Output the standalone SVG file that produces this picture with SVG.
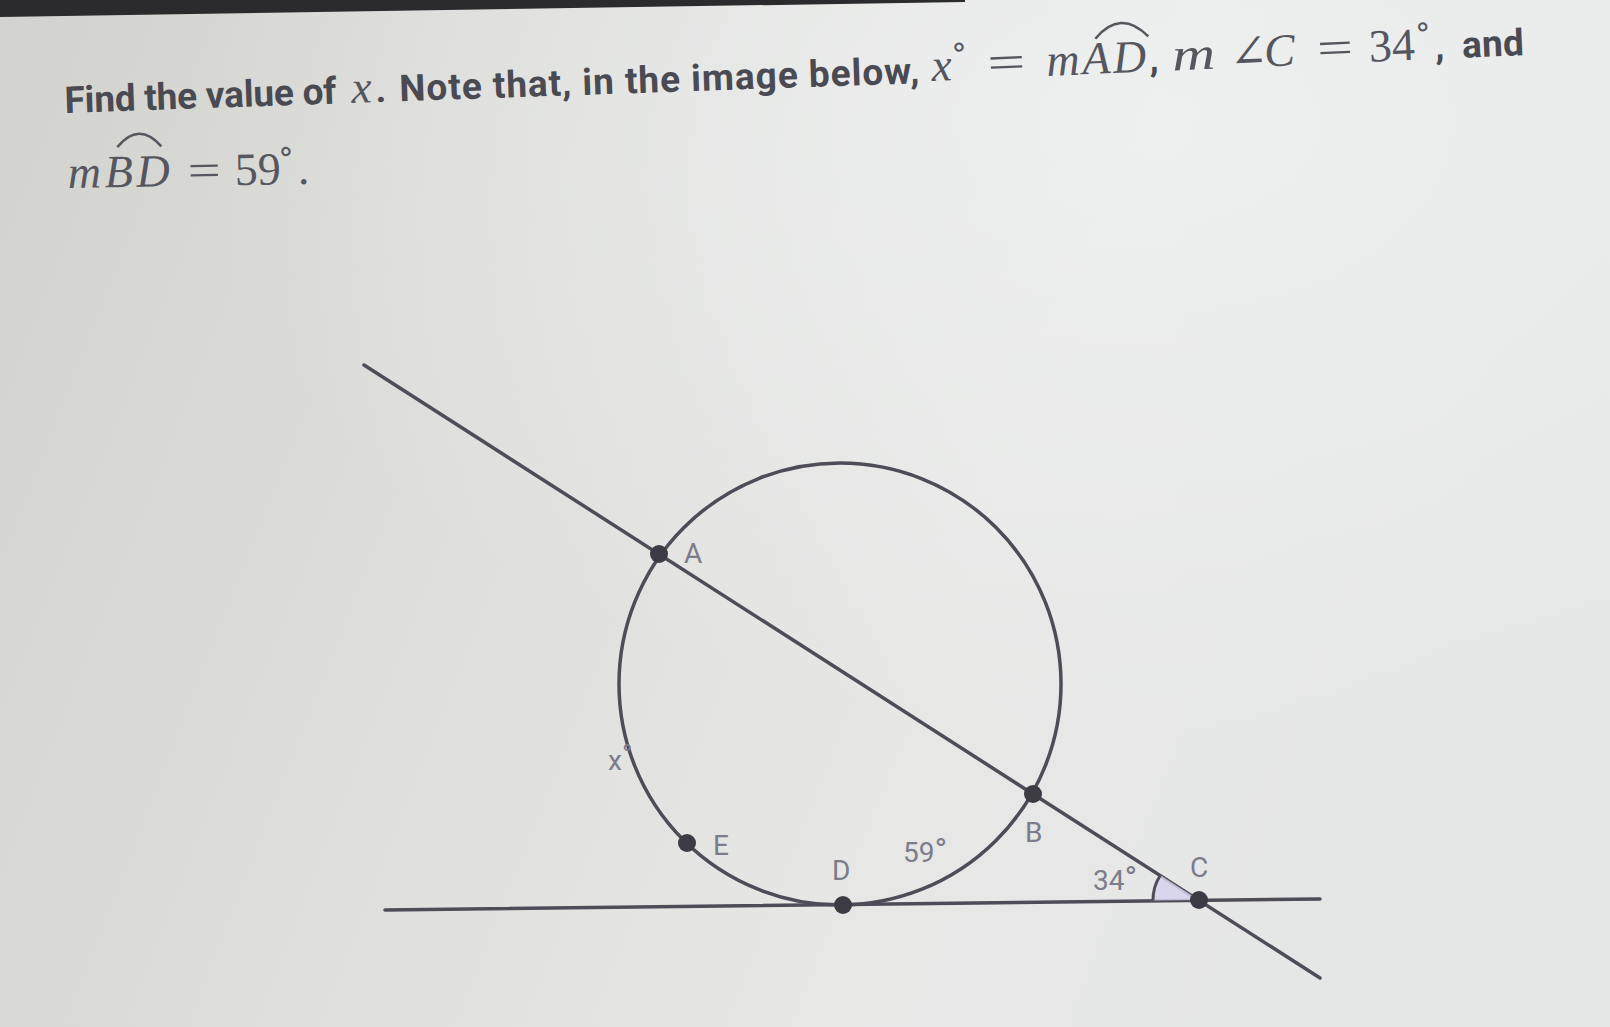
<svg xmlns="http://www.w3.org/2000/svg" width="1610" height="1027" viewBox="0 0 1610 1027">
<defs>
<linearGradient id="bg" x1="0" y1="0" x2="1" y2="0.25">
<stop offset="0" stop-color="#d2d2ce"/>
<stop offset="0.35" stop-color="#dddedb"/>
<stop offset="0.7" stop-color="#e7e8e6"/>
<stop offset="1" stop-color="#e5e7e6"/>
</linearGradient>
<radialGradient id="glow" cx="0.72" cy="0.12" r="0.6">
<stop offset="0" stop-color="#f0f2f2" stop-opacity="0.8"/>
<stop offset="1" stop-color="#f0f2f2" stop-opacity="0"/>
</radialGradient>
<style>
.q{font-family:Roboto,"Liberation Sans",sans-serif;font-weight:bold;font-size:37px;fill:#4a4a52}
.mi{font-family:"Liberation Serif","DejaVu Serif",serif;font-style:italic;font-size:46px;fill:#56565f}
.mr{font-family:"Liberation Serif","DejaVu Serif",serif;font-size:46px;fill:#56565f}
.deg{font-family:"DejaVu Serif",serif;font-size:30px;fill:#56565f}
.lbl{font-family:Roboto,"Liberation Sans",sans-serif;font-size:28px;fill:#7c7c8a}
.ln{stroke:#4d4c57;stroke-width:3.5;fill:none;stroke-linecap:round}
.pt{fill:#3c3b44}
.hat{stroke:#56565f;stroke-width:2.5;fill:none}
</style>
</defs>
<rect x="0" y="0" width="1610" height="1027" fill="url(#bg)"/>
<rect x="0" y="0" width="1610" height="1027" fill="url(#glow)"/>
<polygon points="0,0 965,0 965,2 0,17" fill="#2b2b2e"/>

<g id="question">
<g transform="rotate(-2 65 113)">
<text class="q" x="65" y="113" textLength="272" lengthAdjust="spacing">Find the value of</text>
<text class="mi" x="352" y="113">x</text>
<text class="q" x="376" y="113">.</text>
<text class="q" x="400" y="113" textLength="520" lengthAdjust="spacing">Note that, in the image below,</text>
</g>
<g transform="rotate(-2.5 930 81)">
<text class="mi" x="932" y="81">x</text>
<text class="deg" x="953" y="66">°</text>
<text class="mr" x="988" y="81" textLength="38" lengthAdjust="spacingAndGlyphs">=</text>
<text class="mi" x="1047" y="81" textLength="100" lengthAdjust="spacing">mAD</text>
<path class="hat" d="M1097,46 Q1123.5,17 1150,46"/>
<text class="q" x="1150" y="81">,</text>
<text class="mi" x="1173" y="81" textLength="43" lengthAdjust="spacingAndGlyphs">m</text>
<text class="mr" x="1230" y="81">∠</text>
<text class="mi" x="1265" y="81">C</text>
<text class="mr" x="1318" y="81" textLength="36" lengthAdjust="spacingAndGlyphs">=</text>
<text class="mr" x="1370" y="81">34</text>
<text class="deg" x="1417" y="66">°</text>
<text class="q" x="1436" y="81">,</text>
<text class="q" x="1463" y="81" textLength="62" lengthAdjust="spacing">and</text>
</g>
<g transform="rotate(-1 68 188)">
<text class="mi" x="68" y="188" textLength="102" lengthAdjust="spacing">mBD</text>
<path class="hat" d="M118,148 Q140,122 162,148"/>
<text class="mr" x="188" y="188" textLength="33" lengthAdjust="spacingAndGlyphs">=</text>
<text class="mr" x="235" y="188">59</text>
<text class="deg" x="279" y="173">°</text>
<text class="mr" x="298" y="188">.</text>
</g>
</g>

<g id="connectors">
<line class="ln" x1="364" y1="365" x2="1320" y2="978"/>
<line class="ln" x1="385" y1="910" x2="1320" y2="899"/>
</g>

<g id="circle">
<circle class="ln" cx="840" cy="684" r="221" stroke="#52505e"/>
</g>

<g id="angle-C">
<path d="M1199,900 L1153,900.5 A46,46 0 0 1 1160.3,875.2 Z" fill="#d6d2ec" fill-opacity="0.85"/>
<path d="M1153,900.5 A46,46 0 0 1 1160.3,875.2" fill="none" stroke="#4d4c57" stroke-width="3"/>
<text class="lbl" x="1093" y="890" font-size="30">34<tspan font-size="34">°</tspan></text>
</g>

<g id="arc-x">
<text class="lbl" x="608" y="770" font-size="24" fill="#6b63a3">x<tspan font-size="28" dy="-6">°</tspan></text>
</g>

<g id="arc-59">
<text class="lbl" x="903" y="862">59<tspan font-size="34">°</tspan></text>
</g>

<g id="node-A">
<circle class="pt" cx="659" cy="554" r="9"/>
<text class="lbl" x="684" y="563">A</text>
</g>
<g id="node-B">
<circle class="pt" cx="1033" cy="794" r="9"/>
<text class="lbl" x="1025" y="842">B</text>
</g>
<g id="node-C">
<circle class="pt" cx="1199" cy="900" r="9"/>
<text class="lbl" x="1190" y="877">C</text>
</g>
<g id="node-D">
<circle class="pt" cx="843" cy="905" r="9"/>
<text class="lbl" x="832" y="880">D</text>
</g>
<g id="node-E">
<circle class="pt" cx="687" cy="843" r="9"/>
<text class="lbl" x="713" y="855">E</text>
</g>
</svg>
